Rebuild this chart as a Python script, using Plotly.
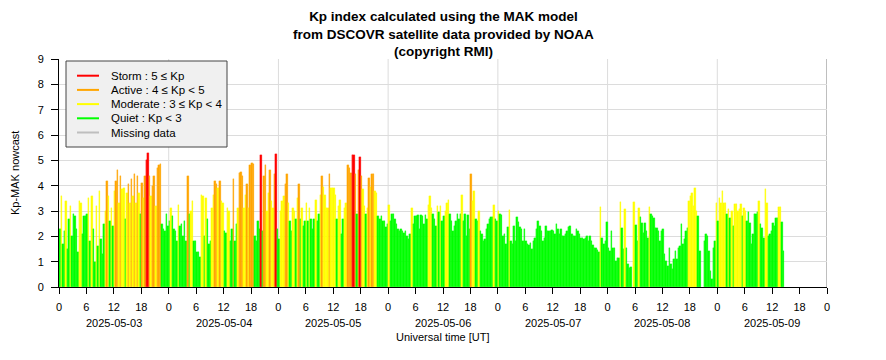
import pandas as pd
import plotly.graph_objects as go

# ---------------- data (Kp-MAK nowcast, 20-minute values) ----------------
start_time = "2025-05-03 00:00"
step = "20min"

kp_may03 = [2.3, 3.6, 1.7, 2.2, 3.4, 1.5, 2.7, 3.2, 2.0, 2.9, 2.8, 2.3, 1.4, 3.4, 3.3, 2.1,
            2.8, 2.8, 2.9, 3.5, 1.8, 3.6, 2.3, 1.0, 3.2, 1.6, 3.8, 1.9, 1.3, 2.5, 3.0, 4.2,
            3.6, 2.6, 3.1, 2.4, 3.8, 4.2, 4.6, 3.3, 4.4, 3.85, 3.9, 2.7, 3.7, 4.05, 3.3, 4.25,
            3.6, 4.45, 3.3, 4.4, 3.7, 2.9, 4.1, 3.5, 4.4, 5.0, 5.3, 4.4, 3.6, 4.0, 4.4, 3.2,
            4.7, 4.8, 4.85, 2.5, 2.3, 2.2, 2.9, 2.4]
kp_may04 = [2.6, 3.1, 2.8, 2.3, 2.2, 1.8, 3.25, 2.4, 2.5, 2.0, 2.6, 1.8, 4.4, 2.9, 3.0, 3.4,
            1.8, 1.8, 1.4, 1.4, 1.2, 3.65, 3.6, 2.0,
            3.5, 2.7, 1.7, 1.8, 3.1, 3.65, 4.2, 4.05, 3.9, 4.2, 3.4, 3.3, 2.2, 2.15, 3.1, 3.0,
            1.8, 2.3, 4.25, 1.8, 2.5, 3.1, 4.5, 4.55, 4.4, 3.1, 3.65, 4.05, 3.1, 4.8, 4.9, 4.85,
            2.0, 1.8, 2.6, 2.3, 5.2, 2.2, 4.4, 4.8, 3.0, 3.7, 4.6, 3.4, 3.1, 4.45, 5.25, 2.3]
kp_may05 = [1.9, 3.0, 3.4, 3.6, 4.05, 4.45, 3.3, 2.6, 2.2, 3.1, 3.0, 2.7, 3.5, 4.05, 2.7, 3.1,
            2.4, 2.6, 3.3, 2.6, 3.1, 2.7, 2.3, 2.7, 3.45, 2.6, 2.9, 3.65, 4.4, 3.95, 3.65, 3.1,
            3.1, 4.45, 3.9, 3.9, 3.9, 3.65, 2.7, 3.2,
            3.45, 2.1, 2.7, 3.1, 3.3, 4.8, 4.7, 4.5, 5.2, 5.2, 4.45, 2.9, 4.6, 5.15, 4.4, 3.85,
            3.2, 2.9, 3.1, 4.3, 3.95, 4.45, 4.45, 3.8, 3.7, 2.8, 2.7, 2.8, 2.6, 2.6, 2.35, 2.5]
kp_may06 = [3.25, 2.6, 2.9, 2.9, 2.7, 2.5, 2.3, 2.2, 2.3, 2.2, 2.15, 2.2, 2.0, 1.9, 2.1, 3.1,
            2.5, 2.8, 2.8, 2.85, 2.3, 2.85, 2.8, 2.5, 2.85, 2.7, 3.25, 3.6, 3.1, 2.9, 2.7, 2.4,
            3.2, 2.95, 3.2, 2.6, 2.8, 3.0, 3.3, 3.45, 2.9, 2.6, 2.2, 2.4, 2.6, 2.9, 2.7, 2.9,
            3.65, 2.6, 2.9, 2.0, 2.85, 2.3, 4.45, 3.4, 3.8, 2.7, 2.6, 3.0, 2.2, 2.1, 1.8, 1.9,
            2.3, 2.5, 2.7, 2.75, 2.75, 3.25, 2.67, 2.6]
kp_may07 = [3.0, 2.9, 2.85, 2.0, 2.1, 1.7, 2.35, 3.05, 1.8, 1.7, 2.4, 1.8, 2.75, 2.55, 2.35, 2.3,
            1.8, 2.3, 1.8, 1.7, 1.65, 1.75, 1.5, 1.8, 1.95, 2.3, 2.6, 2.4, 2.2, 1.8, 1.95, 2.4,
            2.2, 2.2, 2.2, 2.25, 2.2, 2.1, 2.5, 2.3, 2.1, 2.3, 2.0, 2.0, 2.1, 2.2, 2.35, 2.4,
            2.1, 2.0, 2.0, 2.3, 2.2, 2.1, 1.95, 1.95, 1.9, 1.95, 2.0, 1.8, 2.0, 1.8, 1.65, 1.55,
            1.55, 1.45, 1.4, 3.15, 1.95, 1.7, 1.8, 2.55]
kp_may08 = [1.55, 1.42, 2.2, 1.55, 1.55, 1.03, 1.16, 1.16, 3.35, 2.34, 1.5, 3.07, 1.55, 0.89, 0.76, 0.8,
            None, 3.35, 2.45, 1.8, 3.13, 2.78, 2.54, 2.14, 2.54, 2.21, 1.95, 3.16, 2.87, 2.8, 2.74, 2.34,
            2.34, 2.21, 1.82, 2.21, 2.28, 1.29, 1.03, 0.83, 1.55, 0.89, 0.7, 1.1, 1.42, 1.1, 1.55, 1.62,
            2.5, 1.68, 1.88, 2.21, 2.34, 3.4, 3.6, 3.7, 3.2, 3.9, 3.0, 2.8, 1.42, None, None, 1.8,
            2.08, 2.01, 1.42, 0.63, 0.3, 1.55, 1.82, 3.33]
kp_may09 = [2.6, 3.5, 3.3, 3.8, 3.33, 3.33, 2.87, 3.07, 2.74, 3.0, 2.41, 3.26, 3.26, 3.0, 3.07, 3.26,
            2.8, 3.13, 3.0, 2.6, 2.97, 2.54, 1.68, 2.08, 2.87, 2.87, 2.97, 3.4, 2.47, 2.34, 1.95, 3.85,
            3.33, 2.01, 2.08, 2.2, 2.54, 2.41, 2.74, 2.74, 3.16, 3.16, 2.57, 1.42]

kp_values = kp_may03 + kp_may04 + kp_may05 + kp_may06 + kp_may07 + kp_may08 + kp_may09
times = pd.date_range(start_time, periods=len(kp_values), freq=step)

# ---------------- categories / legend ----------------
level_names = ["Storm : 5 \u2264 Kp", "Active : 4 \u2264 Kp < 5",
               "Moderate : 3 \u2264 Kp < 4", "Quiet : Kp < 3", "Missing data"]
level_colors = ["#ff0000", "#ffa500", "#ffff00", "#00ff00", "#bebebe"]
level_lower = [5, 4, 3, 0]

# ---------------- axis labels ----------------
day_labels = ["2025-05-03", "2025-05-04", "2025-05-05", "2025-05-06",
              "2025-05-07", "2025-05-08", "2025-05-09"]
hour_labels = ["0", "6", "12", "18"]
x_start, x_end = "2025-05-03 00:00", "2025-05-10 00:00"
title_lines = ["Kp index calculated using the MAK model",
               "from DSCOVR satellite data provided by NOAA",
               "(copyright RMI)"]
y_title = "Kp-MAK nowcast"
x_title = "Universal time [UT]"


def colour_for(v):
    if v is None:
        return level_colors[4]
    for lo, c in zip(level_lower, level_colors):
        if v >= lo:
            return c
    return level_colors[3]


bar_colors = [colour_for(v) for v in kp_values]
step_ms = pd.Timedelta(step).total_seconds() * 1000

FONT = "Liberation Sans, Arial, Helvetica, sans-serif"

# page has an 8px body margin: figure is sized/positioned to compensate
W, H = 878, 352
ML, MT, MR, MB = 51, 51, 59, 73
PW, PH = W - ML - MR, H - MT - MB


def px_x(px):  # figure-pixel x -> paper
    return (px - ML) / PW


def px_y(py):  # figure-pixel y -> paper
    return 1 - (py - MT) / PH


fig = go.Figure()
fig.add_trace(go.Bar(
    x=times + pd.Timedelta(step) / 2, y=kp_values, width=step_ms,
    marker=dict(color=bar_colors, line=dict(width=0.3, color=bar_colors)),
    showlegend=False, hovertemplate="%{x}<br>Kp %{y}<extra></extra>"))

# ticks every 6 hours
tick_vals = pd.date_range(x_start, x_end, freq="6h")
tick_text = [hour_labels[t.hour // 6] for t in tick_vals]

# vertical day grid lines
day_lines = pd.date_range(x_start, x_end, freq="1D")[1:]
shapes = []
for d in day_lines:
    last = d == pd.Timestamp(x_end)
    shapes.append(dict(type="line", xref="x", yref="paper", x0=d, x1=d, y0=0, y1=1,
                       layer="below",
                       line=dict(color="#a8a8a8" if last else "#dcdcdc",
                                 width=1.5 if last else 1)))

annotations = [
    dict(text="<b>" + "<br>".join(title_lines) + "</b>", xref="paper", yref="paper",
         x=0.5, y=px_y(0), xanchor="center", yanchor="top", showarrow=False,
         borderpad=0, font=dict(family=FONT, size=13.5, color="black")),
    dict(text=y_title, xref="paper", yref="paper", x=px_x(0), y=0.5,
         textangle=-90, showarrow=False, xanchor="left", yanchor="middle",
         borderpad=0, font=dict(size=11)),
    dict(text=x_title, xref="paper", yref="paper", x=0.5, y=-50 / PH,
         showarrow=False, xanchor="center", yanchor="middle",
         font=dict(size=11)),
]
# date labels centred under each day's 12 h tick
for i, lab in enumerate(day_labels):
    annotations.append(dict(text=lab, xref="x", yref="paper",
                            x=pd.Timestamp(x_start) + pd.Timedelta(days=i, hours=12),
                            y=-36 / PH, showarrow=False, xanchor="center", yanchor="middle",
                            font=dict(size=11)))

# legend box (drawn as a classic boxed key)
shapes.append(dict(type="rect", xref="paper", yref="paper",
                   x0=px_x(58), x1=px_x(219), y0=px_y(139), y1=px_y(53),
                   fillcolor="#f0f0f0", line=dict(color="#444444", width=1), layer="above"))
row0, row_step = 67.7, 14.2
for k, (name, col) in enumerate(zip(level_names, level_colors)):
    yy = px_y(row0 + k * row_step)
    shapes.append(dict(type="line", xref="paper", yref="paper",
                       x0=px_x(69), x1=px_x(91), y0=yy, y1=yy, layer="above",
                       line=dict(color=col, width=2)))
    annotations.append(dict(text=name, xref="paper", yref="paper",
                            x=px_x(101), y=yy, xanchor="left", yanchor="middle",
                            showarrow=False, font=dict(size=11.5, color="black")))

fig.update_layout(
    width=W, height=H,
    margin=dict(l=ML, r=MR, t=MT, b=MB),
    paper_bgcolor="white", plot_bgcolor="white",
    font=dict(family=FONT, size=11, color="black"),
    bargap=0, showlegend=False,
    xaxis=dict(range=[x_start, x_end], type="date", automargin=False,
               tickmode="array", tickvals=tick_vals, ticktext=tick_text, tickangle=0,
               ticks="outside", ticklen=6, tickcolor="black", tickwidth=1,
               ticklabelstandoff=4,
               showline=True, linecolor="black", linewidth=1,
               showgrid=False, zeroline=False,
               tickfont=dict(size=11, color="black")),
    yaxis=dict(range=[0, 9], tickmode="array", tickvals=list(range(0, 10)),
               automargin=False,
               ticks="outside", ticklen=7, tickcolor="black", tickwidth=1,
               ticklabelstandoff=5,
               showline=True, linecolor="black", linewidth=1,
               showgrid=True, gridcolor="#dcdcdc", gridwidth=1,
               zeroline=False, tickfont=dict(size=11, color="black")),
    shapes=shapes,
    annotations=annotations,
)

fig.write_html("out.html")
